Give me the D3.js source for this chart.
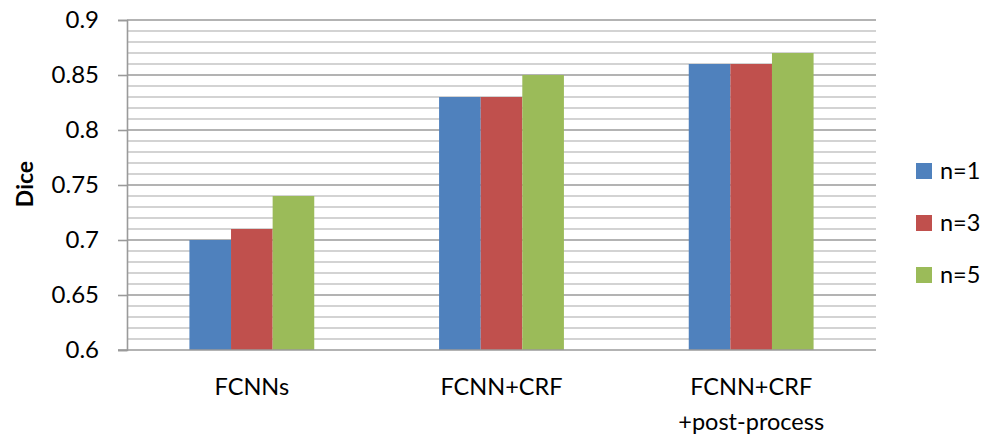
<!DOCTYPE html>
<html>
<head>
<meta charset="utf-8">
<script src="https://cdn.jsdelivr.net/npm/d3@7"></script>
<style>
  body { margin: 0; background: #fff; }
  text { font-family: Lato, "Open Sans", sans-serif; fill: #000; }
</style>
</head>
<body>
<svg id="chart" width="992" height="443"></svg>
<script>
// Dice scores per method and neighbourhood size
const categories = ["FCNNs", "FCNN+CRF", "FCNN+CRF\n+post-process"];
const seriesNames = ["n=1", "n=3", "n=5"];
const valuesN1 = [0.70, 0.83, 0.86];
const valuesN3 = [0.71, 0.83, 0.86];
const valuesN5 = [0.74, 0.85, 0.87];
const yTicks = [0.6, 0.65, 0.7, 0.75, 0.8, 0.85, 0.9];
const colors = ["#4F81BD", "#C0504D", "#9BBB59"];

const series = [valuesN1, valuesN3, valuesN5];

const svg = d3.select("#chart");
const plotLeft = 127, plotRight = 876, plotTop = 20, plotBottom = 350;

const x = d3.scaleBand().domain(categories).range([plotLeft, plotRight]).paddingInner(0).paddingOuter(0);
const inner = d3.scaleBand().domain(seriesNames).range([0, x.bandwidth() * 0.5]);
const y = d3.scaleLinear().domain([0.6, 0.9]).range([plotBottom, plotTop]);

// minor gridlines every 0.01
const minor = d3.range(61, 90).map(v => v / 100).filter(v => Math.round(v * 100) % 5 !== 0);
svg.append("g").selectAll("line").data(minor).join("line")
  .attr("x1", plotLeft).attr("x2", plotRight)
  .attr("y1", d => y(d)).attr("y2", d => y(d))
  .attr("stroke", "#c4c4c4").attr("stroke-width", 1.6);

// major gridlines
svg.append("g").selectAll("line").data(yTicks.slice(1)).join("line")
  .attr("x1", plotLeft).attr("x2", plotRight)
  .attr("y1", d => y(d)).attr("y2", d => y(d))
  .attr("stroke", "#9a9a9a").attr("stroke-width", 1.6);

// bars
categories.forEach((c, i) => {
  const gx = x(c) + x.bandwidth() * 0.25;
  svg.append("g").selectAll("rect").data(seriesNames).join("rect")
    .attr("x", (s) => gx + inner(s))
    .attr("width", inner.bandwidth())
    .attr("y", (s, j) => y(series[j][i]))
    .attr("height", (s, j) => y(0.6) - y(series[j][i]))
    .attr("fill", (s, j) => colors[j]);
});

// y axis
const yAxis = d3.axisLeft(y).tickValues(yTicks).tickSize(9).tickPadding(19)
  .tickFormat(d => String(+d.toFixed(2)));
const gy = svg.append("g").attr("transform", `translate(${plotLeft},0)`).call(yAxis);
gy.select(".domain").attr("stroke", "#9a9a9a").attr("stroke-width", 1.6);
gy.selectAll(".tick line").attr("stroke", "#9a9a9a").attr("stroke-width", 1.6);
gy.selectAll(".tick text").style("font-size", "24px").attr("fill", "#000");

// baseline
svg.append("line").attr("x1", plotLeft - 9).attr("x2", plotRight)
  .attr("y1", y(0.6)).attr("y2", y(0.6))
  .attr("stroke", "#9a9a9a").attr("stroke-width", 1.6);

// x category labels
categories.forEach(c => {
  const lines = c.split("\n");
  const t = svg.append("text").attr("text-anchor", "middle")
    .attr("x", x(c) + x.bandwidth() / 2).attr("y", 395)
    .style("font-size", "23.5px");
  lines.forEach((l, k) => t.append("tspan")
    .attr("x", x(c) + x.bandwidth() / 2).attr("dy", k === 0 ? 0 : 35).text(l));
});

// y axis title
svg.append("text").attr("transform", "translate(33,184) rotate(-90)")
  .attr("text-anchor", "middle").style("font-size", "23px").style("font-weight", "bold")
  .text("Dice");

// legend
const lg = svg.append("g").selectAll("g").data(seriesNames).join("g")
  .attr("transform", (d, i) => `translate(916,${163 + i * 52})`);
lg.append("rect").attr("width", 16).attr("height", 16).attr("fill", (d, i) => colors[i]);
lg.append("text").attr("x", 24).attr("y", 16).style("font-size", "23.5px").text(d => d);
</script>
</body>
</html>
